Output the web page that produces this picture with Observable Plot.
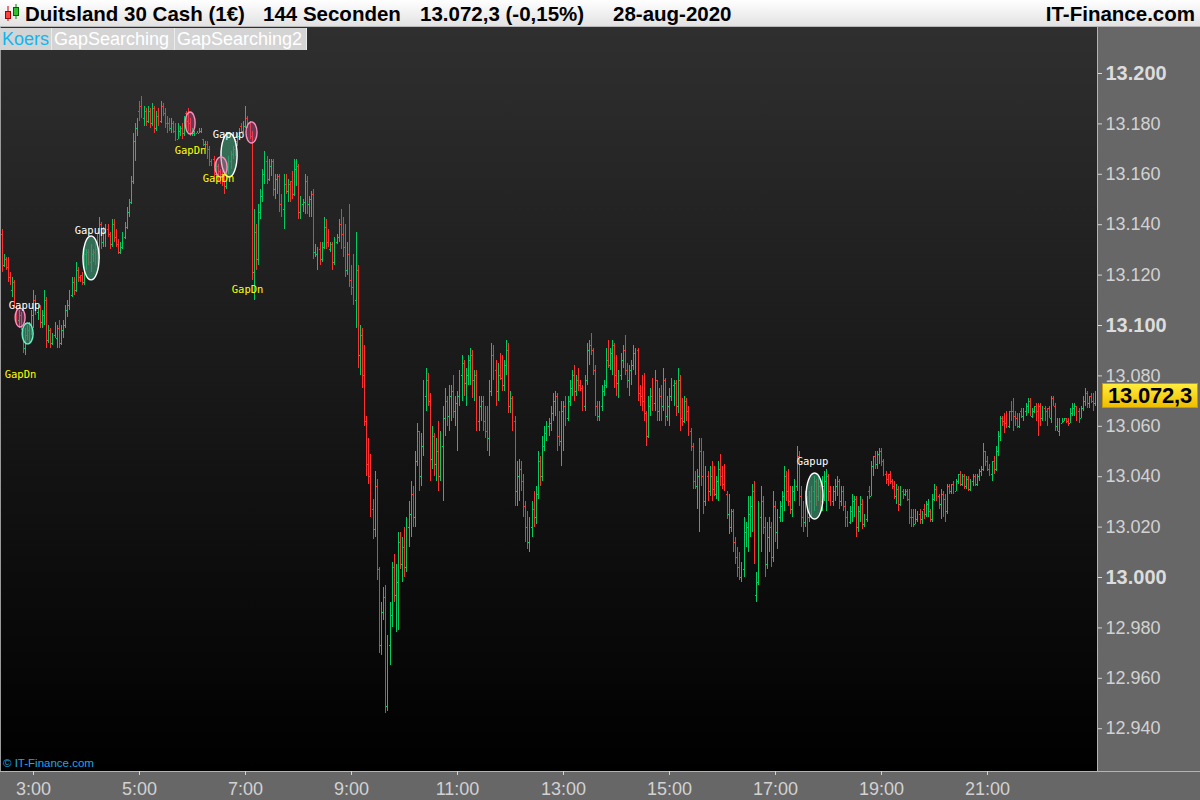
<!DOCTYPE html>
<html><head><meta charset="utf-8">
<script src="https://cdn.jsdelivr.net/npm/d3@7"></script>
<script src="https://cdn.jsdelivr.net/npm/@observablehq/plot@0.6"></script>
<style>
 html,body{margin:0;padding:0}
 body{width:1200px;height:800px;overflow:hidden;background:#676767;position:relative;font-family:"Liberation Sans",Arial,sans-serif}
 #header{position:absolute;left:0;top:0;width:1200px;height:27px;background:linear-gradient(#ffffff,#e2e2e2);border-bottom:1px solid #b8b8b8;box-sizing:border-box}
 .ht{position:absolute;top:3px;font-weight:bold;font-size:20.5px;line-height:21px;color:#000;white-space:pre}
 #plotbg{position:absolute;left:0;top:27px;width:1097px;height:744px;background:linear-gradient(#2f2f2f,#000000);border-left:1px solid #9a9a9a;box-sizing:border-box}
 #chart{position:absolute;left:0;top:27px}
 #vline{position:absolute;left:1097px;top:27px;width:1px;height:745px;background:#b4b4b4}
 #hline{position:absolute;left:0;top:771px;width:1200px;height:1px;background:#b4b4b4}
 #tabs{position:absolute;left:0;top:28px;height:22px}
 .tab{position:absolute;top:0;height:22px;line-height:22px;font-size:18px;background:#d4d4d4;color:#fff;box-sizing:border-box;border-right:1px solid #ececec;padding-left:2px;white-space:nowrap}
 #wm{position:absolute;left:3px;top:757px;font-size:11.5px;color:#1fa6e8;white-space:nowrap}
 #price{position:absolute;left:1102px;width:96px;height:25px;box-sizing:border-box;background:linear-gradient(#ffec3c,#f0bd00);border:1px solid #c79a00;font-weight:bold;font-size:22px;line-height:23px;color:#000;text-align:center;letter-spacing:-0.2px}
</style></head>
<body>
<div id="header">
  <svg style="position:absolute;left:3px;top:3px" width="18" height="20">
    <line x1="5" y1="3" x2="5" y2="18" stroke="#c00000"/>
    <rect x="2.5" y="8.5" width="5" height="7" fill="#ff4040" stroke="#a00000"/>
    <line x1="13" y1="1" x2="13" y2="16" stroke="#008000"/>
    <rect x="10.5" y="4.5" width="5" height="8" fill="#30c030" stroke="#006000"/>
  </svg>
  <div class="ht" style="left:25px">Duitsland 30 Cash (1€)</div>
  <div class="ht" style="left:263px">144 Seconden</div>
  <div class="ht" style="left:420px">13.072,3 (-0,15%)</div>
  <div class="ht" style="left:613px">28-aug-2020</div>
  <div class="ht" style="right:5px">IT-Finance.com</div>
</div>
<div id="plotbg"></div>
<div id="vline"></div>
<div id="hline"></div>
<div id="chart"></div>
<div id="tabs">
  <div class="tab" style="left:0;width:52px;color:#12b4f2">Koers</div>
  <div class="tab" style="left:52px;width:123px">GapSearching</div>
  <div class="tab" style="left:175px;width:132px">GapSearching2</div>
</div>
<div id="wm">© IT-Finance.com</div>
<div id="price">13.072,3</div>
<script>
// ---- 144-second OHLC bars (Dax cash), 517 bars starting 02:24:24 ----
const open = [
13136,13124,13126,13123,13119,13114,13117,13107,13102,13104,
13097,13091,13096,13098,13100,13104,13110,13105,13107,13101,
13104,13110,13094,13098,13093,13096,13095,13099,13093,13098,
13100,13106,13108,13112,13117,13114,13122,13119,13120,13117,
13128,13129,13125,13128,13129,13130,13127,13140,13133,13137,
13138,13136,13132,13140,13135,13132,13129,13131,13135,13139,
13145,13149,13157,13173,13178,13185,13187,13182,13185,13181,
13185,13180,13186,13178,13183,13181,13187,13184,13180,13180,
13178,13180,13177,13174,13177,13178,13176,13184,13181,13180,
13176,13176,13176,13176,13177,13174,13172,13172,13170,13165,
13166,13160,13163,13161,13160,13160,13155,13162,13165,13168,
13170,13173,13175,13179,13177,13179,13182,13180,13175,13121,
13137,13126,13145,13151,13160,13165,13158,13163,13165,13154,
13158,13159,13148,13146,13156,13153,13156,13157,13152,13162,
13163,13145,13148,13149,13157,13148,13150,13152,13129,13128,
13130,13126,13131,13139,13133,13130,13132,13125,13133,13135,
13140,13136,13131,13122,13128,13118,13115,13110,13122,13088,
13096,13080,13062,13045,13040,13027,13019,13036,13003,12973,
12986,12992,12949,12973,12985,13004,12993,12998,13014,13005,
13012,13004,13020,13025,13033,13024,13046,13058,13040,13052,
13072,13078,13070,13047,13056,13045,13050,13040,13052,13063,
13070,13064,13072,13074,13066,13069,13072,13080,13085,13077,
13080,13086,13088,13078,13080,13062,13068,13070,13062,13058,
13055,13074,13088,13082,13074,13080,13079,13076,13084,13090,
13068,13071,13062,13034,13040,13043,13038,13028,13020,13014,
13020,13027,13024,13033,13046,13040,13052,13057,13060,13061,
13065,13070,13072,13056,13054,13066,13068,13063,13070,13075,
13080,13074,13078,13076,13075,13068,13078,13090,13092,13090,
13082,13068,13064,13068,13074,13076,13086,13084,13089,13092,
13080,13077,13080,13086,13090,13082,13078,13082,13084,13089,
13090,13073,13072,13070,13065,13056,13068,13072,13069,13078,
13066,13072,13068,13078,13064,13068,13072,13076,13077,13068,
13078,13063,13062,13070,13066,13058,13052,13038,13036,13040,
13050,13040,13030,13040,13034,13040,13035,13033,13038,13043,
13040,13037,13033,13025,13020,13026,13014,13008,13004,13000,
13003,13018,13020,13025,13028,13034,12993,12998,13024,13030,
13020,13005,13016,13020,13008,13028,13018,13024,13028,13032,
13040,13034,13030,13027,13034,13036,13048,13032,13024,13022,
13030,13024,13030,13034,13038,13032,13036,13030,13036,13038,
13040,13034,13030,13034,13036,13038,13030,13034,13028,13024,
13022,13026,13030,13031,13020,13026,13029,13021,13023,13034,
13032,13044,13048,13045,13049,13050,13046,13041,13039,13041,
13038,13036,13032,13035,13029,13034,13033,13034,13031,13024,
13024,13021,13023,13025,13023,13027,13025,13029,13026,13023,
13031,13035,13032,13029,13033,13031,13026,13036,13034,13037,
13034,13038,13041,13037,13040,13036,13039,13035,13038,13040,
13037,13040,13042,13043,13050,13046,13043,13041,13046,13043,
13050,13056,13063,13062,13061,13060,13066,13066,13064,13063,
13060,13066,13064,13066,13068,13070,13064,13066,13068,13066,
13068,13063,13067,13066,13067,13063,13071,13068,13060,13058,
13061,13062,13063,13062,13061,13065,13067,13068,13066,13063,
13067,13070,13073,13069,13072,13070,13069];
const high = [
13138,13128,13127,13127,13121,13119,13118,13108,13106,13105,
13098,13099,13100,13101,13106,13114,13112,13108,13108,13106,
13114,13111,13100,13099,13097,13101,13100,13102,13100,13102,
13108,13110,13114,13119,13119,13125,13123,13120,13121,13131,
13130,13130,13132,13130,13133,13136,13143,13141,13139,13140,
13140,13137,13142,13142,13138,13134,13133,13137,13141,13147,
13150,13159,13176,13180,13182,13189,13191,13187,13186,13187,
13186,13188,13187,13185,13186,13189,13188,13186,13183,13182,
13182,13181,13180,13180,13179,13180,13183,13185,13186,13182,
13178,13177,13177,13178,13178,13174,13173,13173,13171,13166,
13167,13165,13164,13162,13161,13162,13164,13167,13169,13171,
13174,13176,13178,13180,13181,13187,13183,13181,13177,13146,
13140,13148,13154,13162,13169,13167,13166,13166,13166,13160,
13160,13160,13152,13160,13160,13158,13157,13161,13166,13166,
13164,13151,13150,13160,13159,13151,13153,13154,13132,13131,
13133,13133,13143,13142,13138,13133,13133,13135,13136,13142,
13146,13143,13140,13133,13148,13124,13128,13137,13124,13100,
13099,13092,13064,13055,13049,13031,13042,13039,13004,12990,
12996,12997,12977,12990,13006,13009,13005,13018,13018,13016,
13020,13024,13030,13038,13036,13050,13061,13058,13057,13078,
13083,13081,13073,13060,13057,13055,13062,13058,13068,13075,
13072,13076,13076,13080,13072,13074,13082,13088,13086,13083,
13088,13091,13090,13082,13082,13072,13072,13072,13068,13068,
13078,13093,13092,13086,13085,13089,13088,13086,13094,13093,
13074,13072,13064,13046,13047,13046,13041,13030,13026,13024,
13030,13034,13036,13050,13048,13056,13060,13062,13063,13068,
13073,13074,13073,13066,13070,13070,13072,13072,13078,13082,
13084,13080,13083,13078,13076,13080,13093,13094,13097,13091,
13084,13070,13070,13076,13078,13091,13094,13091,13094,13093,
13088,13082,13089,13092,13096,13085,13084,13086,13092,13091,
13091,13076,13080,13081,13066,13072,13075,13079,13082,13078,
13075,13076,13083,13079,13072,13075,13079,13078,13078,13083,
13080,13071,13072,13071,13068,13059,13053,13042,13043,13055,
13055,13050,13044,13042,13044,13046,13044,13040,13046,13049,
13044,13045,13034,13033,13027,13027,13016,13012,13010,13006,
13024,13022,13032,13032,13037,13038,13002,13030,13036,13032,
13024,13022,13024,13022,13034,13030,13027,13030,13034,13044,
13042,13043,13036,13036,13039,13052,13050,13036,13030,13034,
13032,13034,13036,13040,13039,13040,13038,13040,13042,13043,
13041,13036,13036,13039,13040,13039,13036,13036,13030,13026,
13028,13033,13032,13032,13028,13032,13031,13025,13032,13036,
13046,13048,13050,13050,13051,13051,13047,13042,13041,13042,
13039,13038,13037,13036,13036,13035,13035,13035,13035,13027,
13027,13027,13026,13027,13026,13029,13030,13031,13027,13033,
13037,13036,13033,13035,13034,13033,13037,13037,13037,13038,
13039,13041,13042,13041,13041,13040,13040,13039,13041,13041,
13041,13043,13044,13053,13050,13048,13045,13046,13048,13052,
13058,13064,13064,13065,13066,13066,13070,13071,13066,13065,
13065,13067,13067,13069,13071,13071,13067,13068,13069,13069,
13069,13068,13068,13067,13068,13072,13072,13069,13063,13063,
13063,13063,13063,13063,13067,13069,13069,13068,13067,13068,
13072,13075,13074,13072,13073,13073,13074];
const low = [
13121,13123,13122,13117,13116,13111,13107,13100,13099,13098,
13089,13088,13094,13093,13096,13099,13104,13102,13099,13099,
13100,13091,13093,13091,13092,13095,13091,13091,13092,13095,
13099,13103,13106,13111,13112,13113,13117,13117,13116,13116,
13122,13124,13121,13125,13124,13124,13126,13130,13131,13131,
13135,13130,13131,13133,13131,13128,13128,13130,13134,13138,
13143,13148,13156,13165,13175,13181,13182,13179,13179,13180,
13178,13179,13176,13177,13179,13180,13183,13178,13176,13177,
13176,13176,13173,13174,13175,13174,13175,13177,13177,13175,
13175,13175,13176,13176,13176,13171,13170,13166,13163,13163,
13158,13158,13157,13156,13155,13152,13154,13160,13162,13166,
13167,13171,13174,13176,13176,13178,13178,13174,13118,13110,
13122,13124,13142,13149,13156,13156,13157,13159,13151,13150,
13152,13145,13143,13138,13152,13149,13149,13150,13151,13155,
13142,13142,13145,13144,13144,13143,13143,13126,13127,13122,
13124,13125,13130,13130,13131,13129,13122,13124,13132,13133,
13130,13127,13119,13120,13115,13112,13108,13099,13083,13080,
13075,13060,13040,13037,13024,13015,13016,12999,12970,12969,
12983,12946,12947,12965,12980,12990,12978,12979,13003,12998,
13000,13002,13012,13016,13020,13020,13044,13034,13036,13048,
13066,13068,13038,13043,13040,13038,13034,13038,13030,13056,
13060,13058,13062,13063,13060,13050,13068,13070,13072,13068,
13076,13076,13071,13070,13058,13058,13062,13058,13055,13050,
13048,13072,13078,13068,13070,13078,13074,13074,13080,13065,
13065,13058,13028,13028,13030,13034,13024,13014,13011,13010,
13016,13020,13021,13031,13036,13038,13050,13054,13056,13058,
13062,13064,13050,13052,13044,13050,13060,13062,13068,13072,
13070,13072,13074,13074,13066,13066,13076,13084,13088,13080,
13064,13062,13062,13066,13072,13075,13083,13082,13080,13075,
13072,13071,13078,13083,13080,13075,13072,13076,13082,13080,
13070,13068,13066,13062,13052,13055,13064,13066,13066,13062,
13062,13062,13066,13060,13062,13060,13070,13068,13064,13065,
13058,13060,13061,13062,13056,13050,13035,13035,13027,13018,
13036,13025,13028,13030,13032,13030,13032,13031,13030,13036,
13035,13034,13023,13017,13018,13010,13005,13000,12999,12998,
13000,13012,13010,13016,13018,13005,12990,12997,13010,13017,
13000,13003,13010,13004,13006,13014,13011,13022,13022,13026,
13030,13028,13025,13024,13030,13034,13028,13020,13018,13020,
13016,13022,13024,13026,13028,13030,13026,13026,13030,13026,
13030,13028,13028,13030,13032,13027,13028,13026,13020,13020,
13021,13022,13024,13016,13018,13022,13019,13020,13022,13031,
13032,13040,13043,13043,13045,13044,13040,13037,13036,13037,
13035,13031,13029,13026,13028,13031,13032,13030,13021,13020,
13020,13021,13022,13021,13021,13023,13024,13024,13022,13022,
13030,13030,13027,13023,13024,13022,13025,13033,13033,13033,
13034,13037,13036,13036,13035,13035,13034,13034,13036,13036,
13036,13038,13040,13042,13044,13042,13040,13038,13041,13042,
13048,13054,13060,13057,13059,13059,13062,13058,13060,13059,
13059,13063,13062,13064,13065,13064,13063,13065,13062,13056,
13060,13062,13062,13060,13063,13061,13068,13058,13058,13056,
13061,13062,13061,13060,13061,13064,13064,13062,13061,13063,
13066,13068,13067,13067,13069,13066,13068];
const close = [
13124,13126,13123,13119,13117,13117,13109,13102,13104,13099,
13091,13096,13098,13100,13104,13110,13105,13107,13101,13104,
13110,13094,13098,13093,13096,13099,13099,13093,13098,13100,
13106,13108,13112,13117,13114,13122,13119,13118,13117,13128,
13129,13125,13128,13129,13126,13127,13140,13133,13137,13138,
13136,13132,13140,13135,13132,13129,13131,13135,13139,13145,
13149,13157,13173,13178,13180,13183,13184,13185,13181,13185,
13180,13186,13178,13183,13181,13187,13184,13180,13178,13178,
13180,13177,13174,13179,13178,13176,13181,13179,13178,13177,
13177,13177,13177,13177,13178,13172,13173,13168,13165,13164,
13160,13163,13159,13158,13156,13155,13162,13165,13168,13170,
13173,13175,13177,13177,13179,13184,13180,13175,13121,13137,
13126,13145,13151,13160,13165,13158,13163,13165,13154,13158,
13159,13148,13146,13156,13153,13156,13151,13152,13162,13163,
13145,13149,13149,13157,13148,13150,13152,13129,13131,13130,
13126,13131,13139,13133,13132,13132,13125,13133,13135,13140,
13136,13131,13122,13128,13118,13115,13110,13122,13088,13096,
13080,13062,13045,13040,13027,13019,13036,13003,12973,12986,
12992,12949,12973,12985,13004,12993,12998,13014,13005,13012,
13004,13020,13025,13033,13024,13046,13058,13040,13052,13072,
13078,13070,13047,13056,13045,13050,13040,13052,13063,13070,
13064,13072,13074,13066,13069,13072,13080,13085,13077,13080,
13086,13088,13078,13080,13062,13068,13070,13062,13058,13055,
13074,13088,13082,13074,13080,13079,13076,13084,13090,13068,
13071,13062,13034,13040,13043,13038,13028,13020,13014,13020,
13027,13024,13033,13046,13040,13052,13057,13060,13061,13065,
13070,13072,13056,13054,13066,13068,13063,13070,13075,13080,
13074,13078,13076,13075,13068,13078,13090,13092,13090,13082,
13068,13064,13068,13074,13076,13086,13084,13089,13092,13080,
13077,13080,13086,13090,13082,13078,13082,13084,13089,13090,
13073,13072,13070,13065,13056,13068,13072,13069,13078,13066,
13072,13068,13078,13064,13068,13072,13076,13077,13068,13078,
13063,13062,13070,13066,13058,13052,13038,13036,13040,13050,
13040,13030,13040,13034,13040,13035,13033,13038,13043,13040,
13037,13035,13025,13030,13026,13014,13008,13004,13000,13003,
13018,13020,13025,13028,13034,13007,12998,13024,13030,13020,
13005,13016,13020,13008,13028,13018,13024,13028,13032,13040,
13034,13030,13027,13034,13036,13048,13032,13024,13022,13030,
13020,13030,13034,13038,13032,13036,13030,13036,13038,13040,
13034,13030,13034,13036,13038,13030,13034,13028,13024,13022,
13026,13030,13031,13020,13026,13029,13021,13023,13030,13032,
13044,13046,13045,13049,13050,13046,13041,13039,13038,13038,
13036,13032,13035,13029,13034,13033,13034,13031,13024,13022,
13021,13025,13025,13023,13025,13025,13029,13030,13023,13031,
13035,13032,13029,13033,13027,13026,13035,13034,13036,13034,
13038,13040,13037,13040,13036,13039,13035,13038,13040,13037,
13040,13042,13043,13050,13046,13043,13041,13044,13043,13050,
13056,13062,13061,13059,13060,13064,13063,13060,13061,13060,
13064,13064,13066,13068,13070,13066,13066,13067,13064,13060,
13063,13066,13063,13062,13064,13069,13069,13061,13062,13061,
13062,13063,13062,13061,13065,13067,13068,13064,13063,13067,
13070,13073,13069,13071,13070,13069,13072.3];

// ---- gap annotations (bar-index span, price span) ----
const gapFrom  = [6.4, 9.7, 38.4, 86.6, 103.5, 100.7, 115.3, 379.5];
const gapTo    = [11.1, 14.9, 46.0, 91.3, 111.1, 106.4, 120.5, 387.5];
const gapLow   = [13099.2, 13092.5, 13117.9, 13175.8, 13158.7, 13158.7, 13172.2, 13023.0];
const gapHigh  = [13106.7, 13100.8, 13135.3, 13184.5, 13176.2, 13166.7, 13180.6, 13041.3];
const gapKind  = ["pink", "teal", "green", "pink", "green", "pink", "pink", "green"];
const labelText  = ["Gapup", "GapDn", "Gapup", "GapDn", "Gapup", "GapDn", "GapDn", "Gapup"];
const labelBar   = [10.6, 8.7, 41.7, 88.9, 106.8, 102.1, 115.8, 382.3];
const labelPrice = [13107.8, 13080.6, 13137.7, 13169.4, 13175.6, 13158.3, 13114.3, 13046.0];

// ---- axis ticks ----
const yMajor = [13000, 13100, 13200];
const yMinor = [12940, 12960, 12980, 13020, 13040, 13060, 13080, 13120, 13140, 13160, 13180];
const xTickHours = [3, 5, 7, 9, 11, 13, 15, 17, 19, 21];
const lastPrice = 13072.3;

if (!(open.length === close.length && high.length === close.length && low.length === close.length)) {
  throw new Error("length mismatch " + [open.length, high.length, low.length, close.length].join(","));
}

const STEP = 144000;
const T0 = Date.UTC(2020, 7, 28, 2, 24, 24);
const barTime = i => new Date(T0 + i * STEP);
const bars = close.map((c, i) => ({t: barTime(i), o: open[i], h: high[i], l: low[i], c, dir: c >= open[i] ? "up" : "down"}));
const gaps = gapFrom.map((f, i) => ({x1: barTime(f), x2: barTime(gapTo[i]), y1: gapLow[i], y2: gapHigh[i], kind: gapKind[i]}));
const labels = labelText.map((s, i) => ({text: s, t: barTime(labelBar[i]), p: labelPrice[i], up: s === "Gapup"}));
const xTicks = xTickHours.map(h => new Date(Date.UTC(2020, 7, 28, h, 0, 0)));

const nl = d3.formatLocale({decimal: ",", thousands: ".", grouping: [3], currency: ["€", ""]});
const yFmt = nl.format(",");
const TICK = 68000;
const GREEN = "#00cc62", RED = "#ff3030";

const chart = Plot.plot({
  width: 1200, height: 773,
  marginLeft: 2, marginRight: 103, marginTop: 0, marginBottom: 29,
  style: {background: "transparent", fontFamily: "Liberation Sans, Arial, sans-serif", color: "#d6d6d6", overflow: "visible"},
  x: {type: "utc", domain: [new Date(Date.UTC(2020, 7, 28, 2, 24, 54)), new Date(Date.UTC(2020, 7, 28, 23, 4, 32))], label: null},
  y: {domain: [12923.02, 13218.25], label: null},
  color: {domain: ["up", "down"], range: [GREEN, RED]},
  marks: [
    Plot.ruleX(bars, {x: "t", y1: "l", y2: "h", stroke: "dir", strokeWidth: 1, shapeRendering: "crispEdges"}),
    Plot.ruleY(bars, {y: "o", x1: d => new Date(+d.t - TICK), x2: "t", stroke: "dir", strokeWidth: 1, shapeRendering: "crispEdges"}),
    Plot.ruleY(bars, {y: "c", x1: "t", x2: d => new Date(+d.t + TICK), stroke: "dir", strokeWidth: 1, shapeRendering: "crispEdges"}),
    Plot.rect(gaps.filter(g => g.kind !== "pink"), {x1: "x1", x2: "x2", y1: "y1", y2: "y2", rx: 300, ry: 300,
      fill: "#3a8a6a", fillOpacity: 0.72, stroke: d => d.kind === "teal" ? "#66f0c4" : "#ffffff", strokeWidth: 1.4}),
    Plot.rect(gaps.filter(g => g.kind === "pink"), {x1: "x1", x2: "x2", y1: "y1", y2: "y2", rx: 300, ry: 300,
      fill: "#c05088", fillOpacity: 0.42, stroke: "#ff8cbc", strokeWidth: 1.4}),
    Plot.text(labels.filter(d => d.up), {x: "t", y: "p", text: "text", fill: "#ffffff", fontSize: 10.5, fontFamily: "DejaVu Sans Mono, monospace"}),
    Plot.text(labels.filter(d => !d.up), {x: "t", y: "p", text: "text", fill: "#ffff00", fontSize: 10.5, fontFamily: "DejaVu Sans Mono, monospace"}),
    Plot.axisY(yMajor, {anchor: "right", tickSize: 4, tickPadding: 4, tickFormat: yFmt, fontSize: 20, fontWeight: "bold", color: "#dcdcdc"}),
    Plot.axisY(yMinor, {anchor: "right", tickSize: 4, tickPadding: 4, tickFormat: yFmt, fontSize: 18, color: "#d2d2d2"}),
    Plot.axisX(xTicks, {anchor: "bottom", tickSize: 4, tickPadding: 7, tickFormat: d3.utcFormat("%-H:%M"), fontSize: 18, color: "#d2d2d2"})
  ]
});
document.getElementById("chart").appendChild(chart);

const py = 27 + chart.scale("y").apply(lastPrice);
const box = document.getElementById("price");
box.style.top = (py - 11.5) + "px";
</script>
</body></html>
